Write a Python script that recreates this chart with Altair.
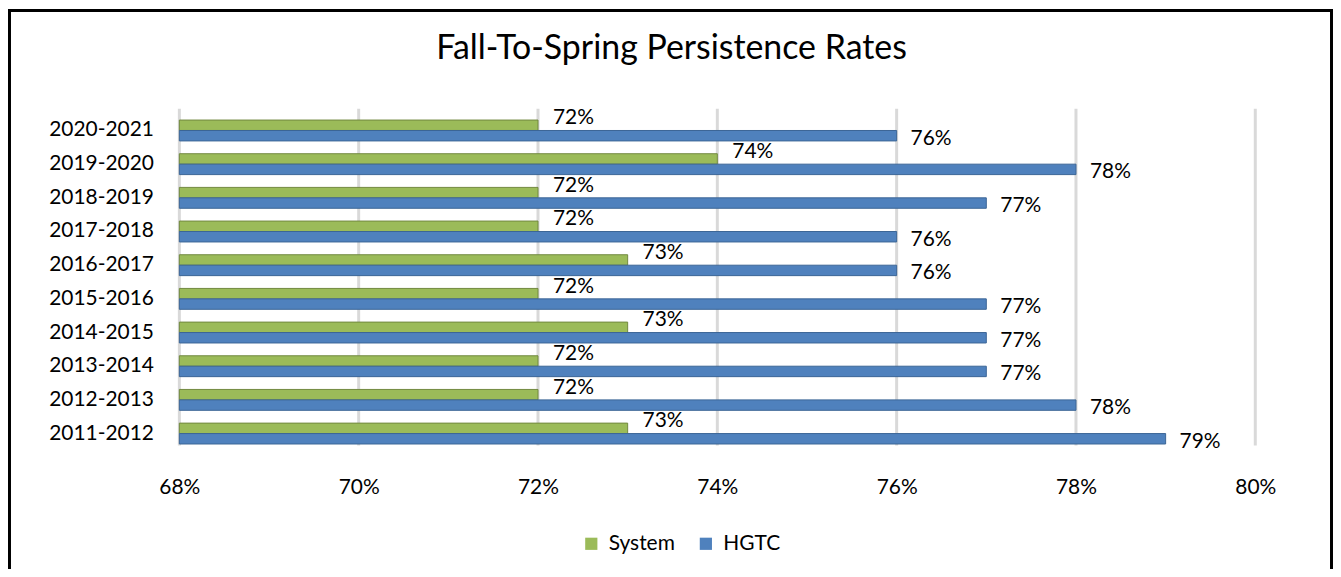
import altair as alt
import pandas as pd

title_text = "Fall-To-Spring Persistence Rates"
years = ["2020-2021", "2019-2020", "2018-2019", "2017-2018", "2016-2017",
         "2015-2016", "2014-2015", "2013-2014", "2012-2013", "2011-2012"]
system = [72, 74, 72, 72, 73, 72, 73, 72, 72, 73]
hgtc = [76, 78, 77, 76, 76, 77, 77, 77, 78, 79]
series = ["System", "HGTC"]
colors = ["#9BBB59", "#4F81BD"]
edges = ["#71893F", "#3B6596"]
x_ticks = [68, 70, 72, 74, 76, 78, 80]

rows = []
for i, y in enumerate(years):
    rows.append({"year": y, "series": "System", "value": system[i]})
    rows.append({"year": y, "series": "HGTC", "value": hgtc[i]})
df = pd.DataFrame(rows)

FONT = "Lato"
W, H = 1080, 338

y_enc = alt.Y("year:N", sort=years, title=None,
              scale=alt.Scale(paddingInner=0.38, paddingOuter=0.19),
              axis=alt.Axis(domain=False, ticks=False, labelPadding=26,
                            labelFont=FONT, labelFontSize=21, labelColor="#000"))
x_scale = alt.Scale(domain=[68, 80], zero=False, nice=False)
yoff = alt.YOffset("series:N", sort=series,
                   scale=alt.Scale(domain=series, paddingInner=0, paddingOuter=0))

base = alt.Chart(df)

grid = alt.Chart(pd.DataFrame({"t": x_ticks})).mark_rule(
    color="#D9D9D9", strokeWidth=3).encode(
    x=alt.X("t:Q", scale=x_scale), y=alt.value(-5), y2=alt.value(333))

bars = base.mark_bar(strokeWidth=1).encode(
    y=y_enc,
    yOffset=yoff,
    x=alt.X("value:Q", scale=x_scale, title=None,
            axis=alt.Axis(values=x_ticks, labelExpr="datum.value + '%'",
                          domain=False, ticks=False, grid=False, labelFlush=False,
                          labelPadding=26, labelFont=FONT, labelFontSize=21,
                          labelColor="#000")),
    x2=alt.datum(68),
    color=alt.Color("series:N", sort=series,
                    scale=alt.Scale(domain=series, range=colors),
                    legend=alt.Legend(title=None, orient="none", direction="horizontal",
                                      legendX=403, legendY=421, symbolType="square",
                                      symbolSize=150, symbolStrokeWidth=0,
                                      labelFont=FONT, labelFontSize=21,
                                      labelColor="#000", labelOffset=7,
                                      columnPadding=20, padding=0)),
    stroke=alt.Stroke("series:N", sort=series,
                      scale=alt.Scale(domain=series, range=edges), legend=None),
)

lab_sys = base.transform_filter(alt.datum.series == "System").transform_calculate(
    lbl="datum.value + '%'").mark_text(
    align="left", baseline="middle", dx=15, dy=-7, font=FONT, fontSize=21, color="#000"
).encode(
    y=alt.Y("year:N", sort=years), yOffset=yoff,
    x=alt.X("value:Q", scale=x_scale),
    text="lbl:N",
)

lab_h = base.transform_filter(alt.datum.series == "HGTC").transform_calculate(
    lbl="datum.value + '%'").mark_text(
    align="left", baseline="middle", dx=14, dy=3, font=FONT, fontSize=21, color="#000"
).encode(
    y=alt.Y("year:N", sort=years), yOffset=yoff,
    x=alt.X("value:Q", scale=x_scale),
    text="lbl:N",
)

frame_src = alt.Chart(pd.DataFrame({"k": [0]}))
f_left = frame_src.mark_rule(color="#000", strokeWidth=3).encode(
    x=alt.value(-170.5), y=alt.value(-105), y2=alt.value(460))
f_right = frame_src.mark_rule(color="#000", strokeWidth=3).encode(
    x=alt.value(1156.5), y=alt.value(-105), y2=alt.value(460))
f_top = frame_src.mark_rule(color="#000", strokeWidth=3).encode(
    x=alt.value(-172), x2=alt.value(1158), y=alt.value(-103.5))

title = frame_src.mark_text(font=FONT, fontSize=34, color="#000", align="center",
                            baseline="middle").encode(
    x=alt.value(494), y=alt.value(-65), text=alt.value(title_text))

chart = alt.layer(grid, bars, lab_sys, lab_h, f_left, f_right, f_top, title).properties(
    width=W, height=H,
    autosize=alt.AutoSizeParams(type="none"),
    padding={"left": 172, "top": 105, "right": 78, "bottom": 118},
    background="white",
).configure_view(stroke=None)

chart.save("out.html", embed_options={"renderer": "svg", "actions": False})
